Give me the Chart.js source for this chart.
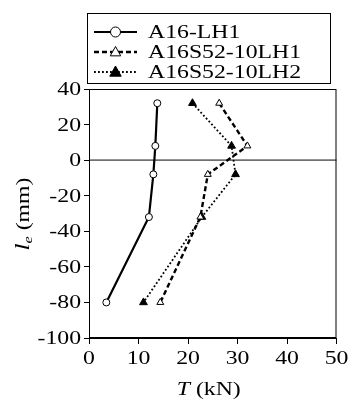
<!DOCTYPE html>
<html>
<head>
<meta charset="utf-8">
<script src="https://cdn.jsdelivr.net/npm/chart.js@4/dist/chart.umd.min.js"></script>
<style>
  html, body { margin: 0; padding: 0; background: #fff; }
  #wrap { width: 349px; height: 401px; }
</style>
</head>
<body>
<div id="wrap"><canvas id="c" width="349" height="401"></canvas></div>
<script>
// embedment positions (mm) and loads (kN)
const levels = [32, 8, -8, -32, -80];
const loadLH1 = [13.8, 13.4, 13.0, 12.1, 3.5];
const loadS52LH1 = [26.3, 32.0, 24.0, 22.5, 14.4];
const loadS52LH2 = [20.9, 28.8, 29.6, 22.8, 11.0];
const seriesNames = ["A16-LH1", "A16S52-10LH1", "A16S52-10LH2"];
const xTicks = [0, 10, 20, 30, 40, 50];
const yTicks = [-100, -80, -60, -40, -20, 0, 20, 40];

const SERIF = "'Liberation Serif', 'Times New Roman', serif";
const STRETCH = 1.25; // the original text is drawn a bit wide

const toPoints = (xs) => xs.map((x, i) => ({ x: x, y: levels[i] }));

// draws the marker of a dataset at (x, y)
function drawMarker(ctx, ds, x, y) {
  const r = ds.pointRadius;
  ctx.save();
  ctx.lineWidth = ds.pointBorderWidth;
  ctx.strokeStyle = ds.pointBorderColor;
  ctx.fillStyle = ds.pointBackgroundColor;
  ctx.setLineDash([]);
  ctx.beginPath();
  if (ds.pointStyle === "circle") {
    ctx.arc(x, y, r, 0, Math.PI * 2);
  } else {
    ctx.moveTo(x, y - r);
    ctx.lineTo(x + r * 0.95, y + r * 0.7);
    ctx.lineTo(x - r * 0.95, y + r * 0.7);
    ctx.closePath();
  }
  ctx.fill();
  ctx.stroke();
  ctx.restore();
}

function wideText(ctx, parts, x, y, align) {
  // parts: [{text, font, dy}]
  ctx.save();
  ctx.translate(x, y);
  ctx.scale(STRETCH, 1);
  let total = 0;
  parts.forEach(p => { ctx.font = p.font; total += ctx.measureText(p.text).width; });
  let cx = 0;
  if (align === "center") cx = -total / 2;
  if (align === "right") cx = -total;
  ctx.textBaseline = "middle";
  ctx.textAlign = "left";
  ctx.fillStyle = "#000";
  parts.forEach(p => {
    ctx.font = p.font;
    ctx.fillText(p.text, cx, p.dy || 0);
    cx += ctx.measureText(p.text).width;
  });
  ctx.restore();
}

const extras = {
  id: "extras",
  beforeDatasetsDraw(chart) {
    const ctx = chart.ctx;
    const a = chart.chartArea;
    const y0 = chart.scales.y.getPixelForValue(0);
    ctx.save();
    ctx.strokeStyle = "#707070";
    ctx.lineWidth = 1.6;
    ctx.beginPath();
    ctx.moveTo(a.left, y0);
    ctx.lineTo(a.right, y0);
    ctx.stroke();
    ctx.restore();
  },
  afterDraw(chart) {
    const ctx = chart.ctx;
    const a = chart.chartArea;
    const sx = chart.scales.x, sy = chart.scales.y;
    // frame
    ctx.save();
    ctx.strokeStyle = "#000";
    ctx.lineWidth = 1;
    ctx.strokeRect(a.left + 0.5, a.top + 0.5, a.right - a.left - 1, a.bottom - a.top - 1);
    ctx.restore();

    // tick labels, wide like the original
    const tickFont = "19px " + SERIF;
    xTicks.forEach(v => {
      wideText(ctx, [{ text: String(v), font: tickFont }], sx.getPixelForValue(v), a.bottom + 21, "center");
    });
    yTicks.forEach(v => {
      wideText(ctx, [{ text: String(v), font: tickFont }], a.left - 8, sy.getPixelForValue(v) + 1, "right");
    });

    // legend box
    const box = { x: 87, y: 13, w: 244, h: 71 };
    ctx.save();
    ctx.fillStyle = "#fff";
    ctx.fillRect(box.x, box.y, box.w, box.h);
    ctx.strokeStyle = "#000";
    ctx.lineWidth = 1;
    ctx.strokeRect(box.x + 0.5, box.y + 0.5, box.w - 1, box.h - 1);
    ctx.restore();
    chart.data.datasets.forEach((ds, i) => {
      const yy = 32 + i * 20;
      ctx.save();
      ctx.strokeStyle = ds.borderColor;
      ctx.lineWidth = ds.borderWidth;
      ctx.setLineDash(ds.borderDash || []);
      ctx.beginPath();
      ctx.moveTo(94, yy);
      ctx.lineTo(137, yy);
      ctx.stroke();
      ctx.restore();
      drawMarker(ctx, Object.assign({}, ds, { pointRadius: ds.pointRadius + 1.5 }), 115.5, yy);
      wideText(ctx, [{ text: ds.label, font: "19px " + SERIF }], 148, yy + 1, "left");
    });

    // axis titles
    wideText(ctx, [
      { text: "T", font: "italic 19px " + SERIF },
      { text: " (kN)", font: "19px " + SERIF }
    ], (a.left + a.right) / 2 - 4, 390, "center");

    ctx.save();
    ctx.translate(24, 214);
    ctx.rotate(-Math.PI / 2);
    ctx.scale(STRETCH, 1);
    ctx.fillStyle = "#000";
    ctx.textBaseline = "middle";
    ctx.font = "italic 20px " + SERIF;
    const w1 = ctx.measureText("l").width;
    ctx.font = "italic 13px " + SERIF;
    const w2 = ctx.measureText("e").width;
    ctx.font = "19px " + SERIF;
    const w3 = ctx.measureText(" (mm)").width;
    let cx = -(w1 + w2 + w3) / 2;
    ctx.font = "italic 20px " + SERIF;
    ctx.fillText("l", cx, 0); cx += w1;
    ctx.font = "italic 13px " + SERIF;
    ctx.fillText("e", cx, 5); cx += w2;
    ctx.font = "19px " + SERIF;
    ctx.fillText(" (mm)", cx, 0);
    ctx.restore();
  }
};

new Chart(document.getElementById("c"), {
  type: "scatter",
  data: {
    datasets: [
      {
        label: seriesNames[0],
        data: toPoints(loadLH1),
        showLine: true,
        borderColor: "#000",
        borderWidth: 2.2,
        pointStyle: "circle",
        pointRadius: 3.5,
        pointBorderWidth: 1,
        pointBorderColor: "#000",
        pointBackgroundColor: "#fff"
      },
      {
        label: seriesNames[1],
        data: toPoints(loadS52LH1),
        showLine: true,
        borderColor: "#000",
        borderWidth: 2.4,
        borderDash: [5, 3],
        pointStyle: "triangle",
        pointRadius: 4,
        pointBorderWidth: 1,
        pointBorderColor: "#000",
        pointBackgroundColor: "#fff"
      },
      {
        label: seriesNames[2],
        data: toPoints(loadS52LH2),
        showLine: true,
        borderColor: "#000",
        borderWidth: 1.8,
        borderDash: [1.8, 2.2],
        pointStyle: "triangle",
        pointRadius: 4.5,
        pointBorderWidth: 1,
        pointBorderColor: "#000",
        pointBackgroundColor: "#000"
      }
    ]
  },
  options: {
    responsive: false,
    animation: false,
    events: [],
    layout: { padding: { top: 89, right: 11, left: 0, bottom: 0 } },
    plugins: { legend: { display: false }, tooltip: { enabled: false } },
    scales: {
      x: {
        type: "linear",
        min: 0, max: 50,
        afterFit: (s) => { s.height = 63; },
        afterBuildTicks: (s) => { s.ticks = xTicks.map(v => ({ value: v })); },
        border: { display: true, color: "#000", width: 1 },
        grid: { drawOnChartArea: false, drawTicks: true, tickLength: 6, color: "#000" },
        ticks: { color: "rgba(0,0,0,0)", font: { family: SERIF, size: 19 } }
      },
      y: {
        type: "linear",
        min: -100, max: 40,
        afterFit: (s) => { s.width = 89; },
        afterBuildTicks: (s) => { s.ticks = yTicks.map(v => ({ value: v })); },
        border: { display: true, color: "#000", width: 1 },
        grid: { drawOnChartArea: false, drawTicks: true, tickLength: 5, color: "#000" },
        ticks: { color: "rgba(0,0,0,0)", font: { family: SERIF, size: 19 } }
      }
    }
  },
  plugins: [extras]
});
</script>
</body>
</html>
